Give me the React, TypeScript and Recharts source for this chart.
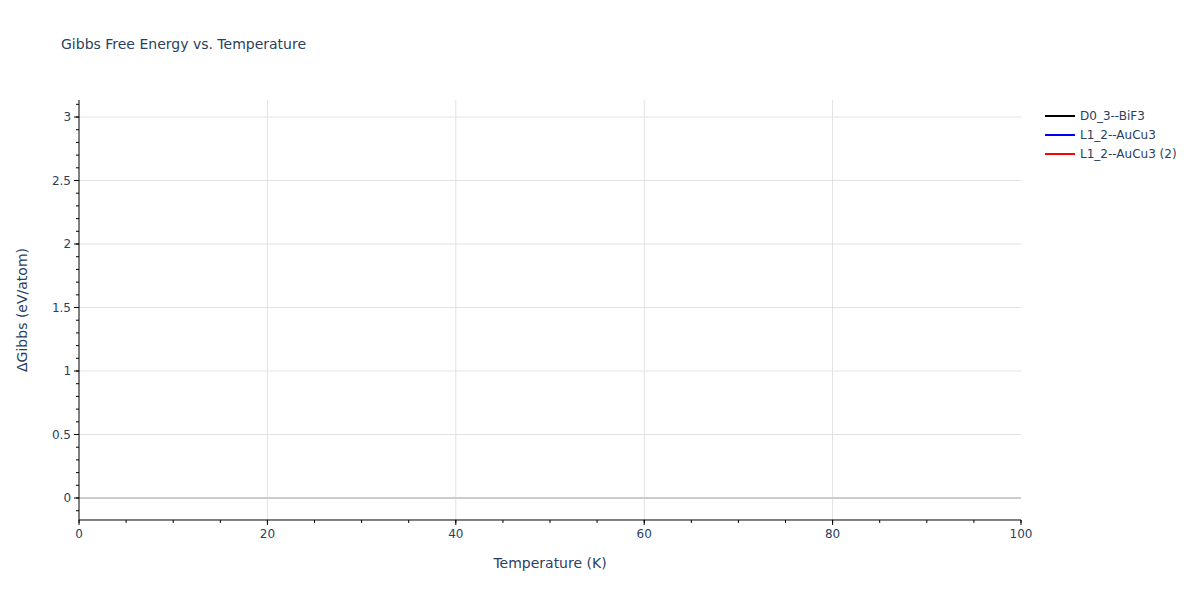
import React from 'react';
import {
  LineChart,
  Line,
  XAxis,
  YAxis,
  ReferenceLine,
} from 'recharts';

// Series: none of them has a visible point in range
const d03BiF3: { temperature: number; gibbs: number }[] = [];
const l12AuCu3: { temperature: number; gibbs: number }[] = [];
const l12AuCu3b: { temperature: number; gibbs: number }[] = [];

const seriesNames = ['D0_3--BiF3', 'L1_2--AuCu3', 'L1_2--AuCu3 (2)'];
const seriesColors = ['#000000', '#0000ff', '#ff0000'];
const seriesData = [d03BiF3, l12AuCu3, l12AuCu3b];

const xDomain = [0, 100];
const xMajorTicks = [0, 20, 40, 60, 80, 100];
const xGridTicks = [20, 40, 60, 80];
const xMinorTicks = [0, 5, 10, 15, 20, 25, 30, 35, 40, 45, 50, 55, 60, 65, 70, 75, 80, 85, 90, 95, 100];

const yDomain = [-0.173, 3.134];
const yMajorTicks = [0, 0.5, 1, 1.5, 2, 2.5, 3];
const yGridTicks = [0.5, 1, 1.5, 2, 2.5, 3];
const yMinorTicks = [
  -0.1, 0, 0.1, 0.2, 0.3, 0.4, 0.5, 0.6, 0.7, 0.8, 0.9, 1, 1.1, 1.2, 1.3, 1.4, 1.5, 1.6,
  1.7, 1.8, 1.9, 2, 2.1, 2.2, 2.3, 2.4, 2.5, 2.6, 2.7, 2.8, 2.9, 3, 3.1,
];

const FONT = '"DejaVu Sans", verdana, arial, sans-serif';
const TEXT = '#2a3f5f';
const TINY = 0.01;

export default function App() {
  return (
    <div style={{ position: 'absolute', left: 0, top: 0, width: 1200, height: 600, background: 'white', fontFamily: FONT }}>
      <div style={{ position: 'absolute', left: 61, top: 36, fontSize: 14, color: TEXT }}>
        Gibbs Free Energy vs. Temperature
      </div>

      <LineChart
        width={1200}
        height={600}
        margin={{ top: 100, right: 179, bottom: 80, left: 79 }}
        style={{ fontFamily: FONT }}
      >
        <XAxis xAxisId="minor" type="number" dataKey="temperature" domain={xDomain} ticks={xMinorTicks}
          height={TINY} tickSize={3} tickFormatter={() => ''} axisLine={{ stroke: '#000' }}
          tickLine={{ stroke: '#000' }} allowDataOverflow />
        <XAxis xAxisId="major" type="number" dataKey="temperature" domain={xDomain} ticks={xMajorTicks}
          height={TINY} tickSize={5} axisLine={false} tickLine={{ stroke: '#000' }}
          tick={{ fill: TEXT, fontSize: 12 }} tickMargin={4} allowDataOverflow
          label={{ value: 'Temperature (K)', position: 'insideBottom', offset: -48, fill: TEXT, fontSize: 14 }} />

        <YAxis yAxisId="minor" type="number" dataKey="gibbs" domain={yDomain} ticks={yMinorTicks}
          width={TINY} tickSize={3} tickFormatter={() => ''} axisLine={{ stroke: '#000' }}
          tickLine={{ stroke: '#000' }} allowDataOverflow />
        <YAxis yAxisId="major" type="number" dataKey="gibbs" domain={yDomain} ticks={yMajorTicks}
          width={TINY} tickSize={5} axisLine={false} tickLine={{ stroke: '#000' }}
          tick={{ fill: TEXT, fontSize: 12 }} tickMargin={3} allowDataOverflow
          label={{ value: 'ΔGibbs (eV/atom)', angle: -90, position: 'insideLeft', offset: -57, fill: TEXT, fontSize: 14, style: { textAnchor: 'middle' } }} />

        {xGridTicks.map((v) => (
          <ReferenceLine key={`gx${v}`} xAxisId="major" yAxisId="major" x={v} stroke="#e2e2e2" />
        ))}
        {yGridTicks.map((v) => (
          <ReferenceLine key={`gy${v}`} xAxisId="major" yAxisId="major" y={v} stroke="#e2e2e2" />
        ))}
        <ReferenceLine xAxisId="major" yAxisId="major" y={0} stroke="#cccccc" strokeWidth={2} />

        {seriesNames.map((name, i) => (
          <Line
            key={name}
            xAxisId="major"
            yAxisId="major"
            data={seriesData[i]}
            dataKey="gibbs"
            name={name}
            stroke={seriesColors[i]}
            strokeWidth={2}
            dot={false}
            isAnimationActive={false}
          />
        ))}
      </LineChart>

      {/* legend */}
      <div style={{ position: 'absolute', left: 1045, top: 106, fontSize: 12, color: TEXT }}>
        {seriesNames.map((name, i) => (
          <div key={name} style={{ display: 'flex', alignItems: 'center', height: 19 }}>
            <span style={{ display: 'inline-block', width: 30, height: 2, background: seriesColors[i], marginRight: 5 }} />
            <span>{name}</span>
          </div>
        ))}
      </div>
    </div>
  );
}
